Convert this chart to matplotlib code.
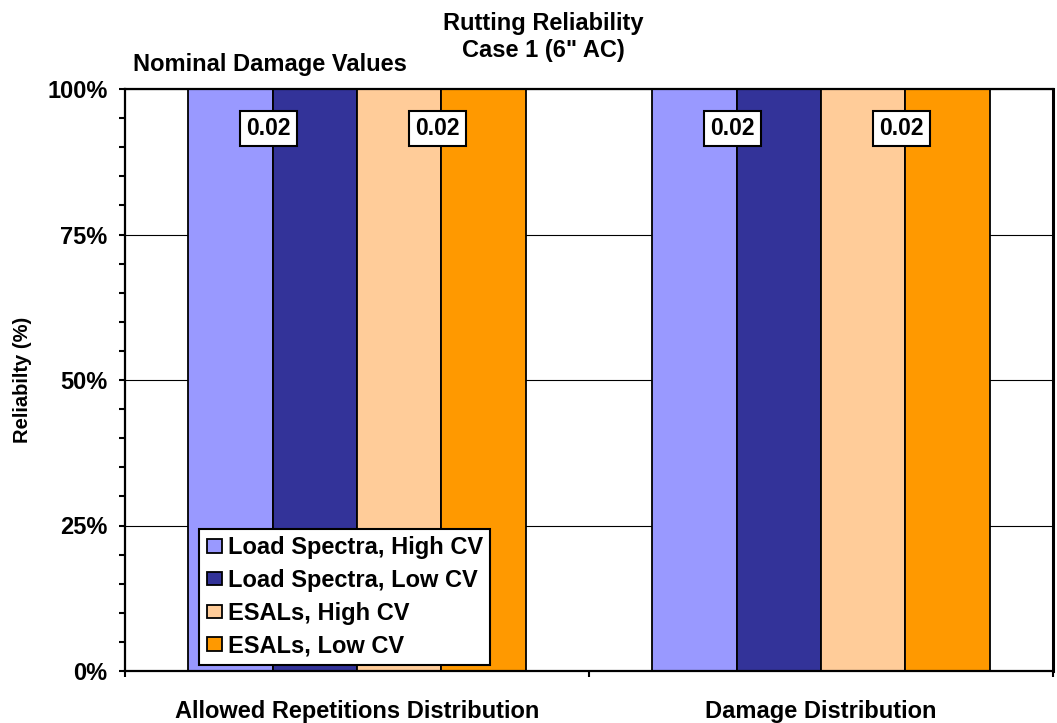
import matplotlib
matplotlib.use("Agg")
import matplotlib.pyplot as plt
import numpy as np
from matplotlib.ticker import MultipleLocator, FixedLocator

plt.rcParams['font.family'] = ['Liberation Sans', 'DejaVu Sans']
plt.rcParams['font.weight'] = 'bold'

categories = ["Allowed Repetitions Distribution", "Damage Distribution"]
series_names = ["Load Spectra, High CV", "Load Spectra, Low CV",
                "ESALs, High CV", "ESALs, Low CV"]
reliability = [
    [100, 100],   # Load Spectra, High CV
    [100, 100],   # Load Spectra, Low CV
    [100, 100],   # ESALs, High CV
    [100, 100],   # ESALs, Low CV
]
colors = ["#9999FF", "#333399", "#FFCC99", "#FF9900"]
damage_labels = [["0.02", "0.02"], ["0.02", "0.02"]]  # per category: Load Spectra, ESALs
label_level = 93.2
yticks = [0, 25, 50, 75, 100]
ytick_labels = ["0%", "25%", "50%", "75%", "100%"]

W, H = 1057, 723
fig = plt.figure(figsize=(W / 100, H / 100), dpi=100)
ax = fig.add_axes([125 / W, 1 - 671 / H, (1053 - 125) / W, (671 - 89) / H])

x = np.arange(len(categories))
bw = 0.182
offsets = (np.arange(4) - 1.5) * bw
for i, (name, vals, c) in enumerate(zip(series_names, reliability, colors)):
    ax.bar(x + offsets[i], vals, width=bw, color=c, edgecolor='black',
           linewidth=1.3, label=name, zorder=2)

for ci in range(len(categories)):
    for k, lab in enumerate(damage_labels[ci]):
        xpos = x[ci] + (offsets[2 * k] + offsets[2 * k + 1]) / 2
        ax.annotate(lab, (xpos, label_level), xytext=(-3, 0), textcoords='offset points',
                    ha='center', va='center', fontsize=16.5, fontweight='bold', zorder=5,
                    bbox=dict(boxstyle='square,pad=0.27', fc='white', ec='black', lw=1.5))

ax.set_xlim(-0.5, 1.5)
ax.set_ylim(0, 100)
ax.set_yticks(yticks)
ax.set_yticklabels(ytick_labels)
ax.yaxis.set_minor_locator(MultipleLocator(5))
ax.grid(axis='y', which='major', color='black', linewidth=0.8, zorder=0)
ax.set_axisbelow(True)

ax.xaxis.set_major_locator(FixedLocator([-0.5, 0.5, 1.5]))
ax.xaxis.set_major_formatter(plt.NullFormatter())
ax.xaxis.set_minor_locator(FixedLocator(x))
ax.set_xticklabels(categories, minor=True)
ax.tick_params(axis='x', which='major', direction='out', length=4, width=1.5)
ax.tick_params(axis='x', which='minor', length=0, pad=21, labelsize=17)
ax.tick_params(axis='y', which='major', direction='out', length=4.5, width=1.5,
               pad=8, labelsize=17)
ax.tick_params(axis='y', which='minor', direction='out', length=4, width=1.5)
for lab in ax.get_xticklabels(minor=True) + ax.get_yticklabels():
    lab.set_fontweight('bold')
for sp in ax.spines.values():
    sp.set_linewidth(1.6)
    sp.set_zorder(3)
ax.spines['right'].set_linewidth(2.2)

leg = fig.legend(loc='lower left', bbox_to_anchor=(199 / W, 1 - 665 / H),
                 borderaxespad=0, frameon=True, fancybox=False, framealpha=1,
                 fontsize=17, handlelength=0.64, handleheight=0.5, handletextpad=0.25,
                 labelspacing=0.41, borderpad=0.32)
leg.get_frame().set_edgecolor('black')
leg.get_frame().set_linewidth(1.5)
for t in leg.get_texts():
    t.set_fontweight('bold')
for p in leg.get_patches():
    p.set_linewidth(1.3)

fig.text(543 / W, 1 - 37 / H, "Rutting Reliability\nCase 1 (6\" AC)", ha='center',
         va='center', fontsize=17, fontweight='bold', linespacing=1.25)
fig.text(133 / W, 1 - 65 / H, "Nominal Damage Values", ha='left', va='center',
         fontsize=17, fontweight='bold')
fig.text(23 / W, 1 - 380 / H, "Reliabilty (%)", ha='center', va='center',
         rotation=90, fontsize=14.5, fontweight='bold')

fig.savefig("out.png", dpi=100)
